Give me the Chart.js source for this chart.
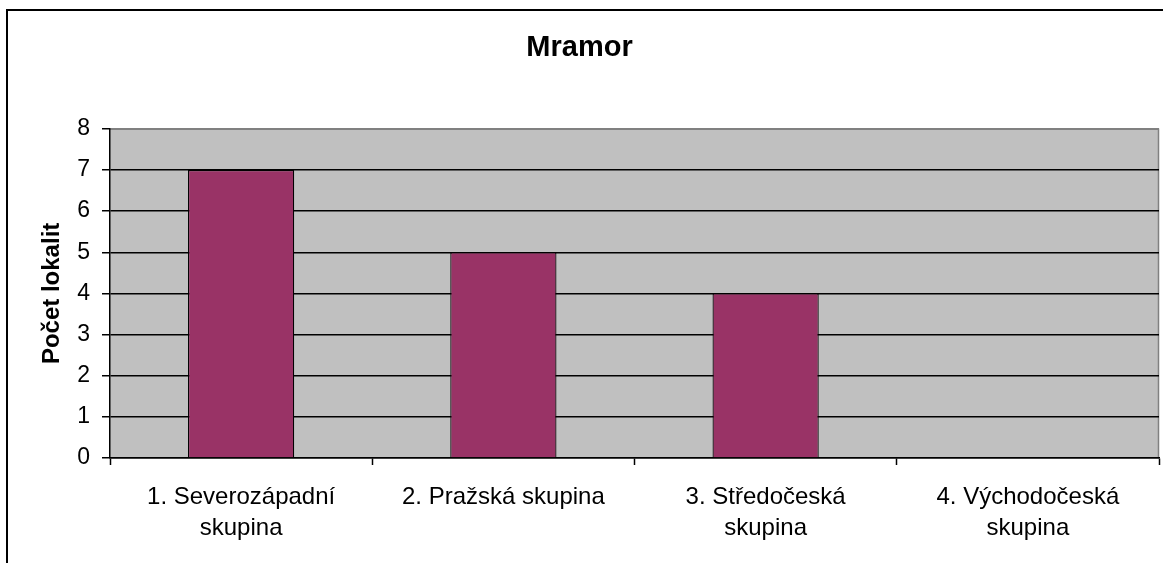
<!DOCTYPE html>
<html>
<head>
<meta charset="utf-8">
<script src="https://cdn.jsdelivr.net/npm/chart.js@4"></script>
<style>
html,body{margin:0;padding:0;background:#fff;}
#wrap{position:relative;width:1163px;height:563px;}
</style>
</head>
<body>
<div id="wrap"><canvas id="c" width="1163" height="563"></canvas></div>
<script>
const chartTitle = "Mramor";
const yAxisTitle = "Počet lokalit";
const categories = [
  ["1. Severozápadní", "skupina"],
  "2. Pražská skupina",
  ["3. Středočeská", "skupina"],
  ["4. Východočeská", "skupina"]
];
const values = [7, 5, 4, 0];
const yTicks = [0, 1, 2, 3, 4, 5, 6, 7, 8];

const FONT = "'Liberation Sans', Arial, sans-serif";

const bgPlugin = {
  id: 'bg',
  beforeDraw(chart) {
    const {ctx, chartArea: a} = chart;
    ctx.save();
    ctx.fillStyle = '#fff';
    ctx.fillRect(0, 0, chart.width, chart.height);
    ctx.fillStyle = '#C0C0C0';
    ctx.fillRect(a.left, a.top, a.right - a.left, a.bottom - a.top);
    ctx.strokeStyle = '#808080';
    ctx.lineWidth = 1.5;
    ctx.beginPath();
    ctx.moveTo(a.left, a.top + 0.5);
    ctx.lineTo(a.right - 0.5, a.top + 0.5);
    ctx.lineTo(a.right - 0.5, a.bottom);
    ctx.stroke();
    ctx.restore();
  },
  afterDraw(chart) {
    const {ctx} = chart;
    ctx.save();
    ctx.strokeStyle = '#000';
    ctx.lineWidth = 2;
    ctx.strokeRect(7, 10, chart.width + 20, chart.height + 20);
    ctx.restore();
  }
};

new Chart(document.getElementById('c'), {
  type: 'bar',
  data: {
    labels: categories,
    datasets: [{
      data: values,
      backgroundColor: '#993366',
      borderColor: '#000',
      borderWidth: 1.2,
      barPercentage: 0.405,
      categoryPercentage: 1
    }]
  },
  options: {
    responsive: false,
    animation: false,
    devicePixelRatio: 1,
    layout: {padding: {left: 0, right: 4, top: 0, bottom: 0}},
    plugins: {
      legend: {display: false},
      tooltip: {enabled: false},
      title: {
        display: true,
        text: chartTitle,
        color: '#000',
        font: {family: FONT, size: 29, weight: 'bold', lineHeight: 1.2},
        padding: {top: 31, bottom: 63}
      }
    },
    scales: {
      x: {
        offset: true,
        grid: {
          offset: true,
          drawOnChartArea: false,
          drawTicks: true,
          tickLength: 7,
          tickColor: '#000',
          tickWidth: 1.5
        },
        border: {color: '#000', width: 1.5},
        ticks: {
          color: '#000',
          font: {family: FONT, size: 24, lineHeight: 1.3},
          padding: 17,
          maxRotation: 0,
          autoSkip: false
        },
        afterFit(scale) { scale.height = 105; }
      },
      y: {
        min: 0,
        max: 8,
        afterBuildTicks(scale) { scale.ticks = yTicks.map(v => ({value: v})); },
        grid: {
          color: (c) => c.tick && c.tick.value === 8 ? '#808080' : '#000',
          lineWidth: 1.5,
          tickColor: '#000',
          tickLength: 8,
          tickWidth: 1.5
        },
        border: {color: '#000', width: 1.5},
        ticks: {
          color: '#000',
          font: {family: FONT, size: 23},
          padding: 12
        },
        title: {
          display: true,
          text: yAxisTitle,
          color: '#000',
          font: {family: FONT, size: 24, weight: 'bold', lineHeight: 1.2},
          padding: {top: 38, bottom: 0}
        },
        afterFit(scale) { scale.width = 110; }
      }
    }
  },
  plugins: [bgPlugin]
});
</script>
</body>
</html>
